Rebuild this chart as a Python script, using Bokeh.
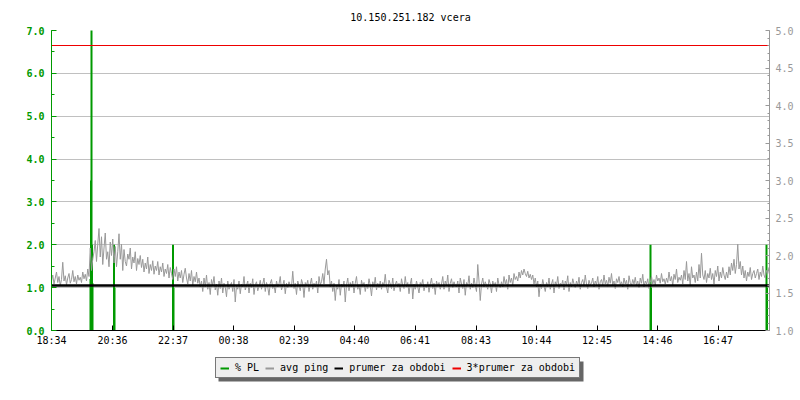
from bokeh.plotting import figure
from bokeh.layouts import column
from bokeh.models import (Range1d, LinearAxis, Legend, LegendItem, FixedTicker,
                          SingleIntervalTicker, NumeralTickFormatter, ColumnDataSource,
                          BoxAnnotation)
from bokeh.embed import file_html
from bokeh.resources import INLINE

title_text = "10.150.251.182 vcera"

# avg ping [ms], one sample every 2.5 minutes starting 18:34 (one row = 30 min)
sample_step_min = 2.5
ping_ms = [
    1.66, 1.74, 1.62, 1.70, 1.78, 1.64, 1.72, 1.60, 1.68, 1.91, 1.66, 1.73,
    1.61, 1.70, 1.76, 1.63, 1.68, 1.80, 1.65, 1.72, 1.62, 1.74, 1.67, 1.71,
    1.64, 1.78, 1.69, 1.75, 1.66, 1.82, 1.72, 2.10, 1.80, 1.95, 2.05, 2.20,
    1.92, 2.15, 2.36, 1.98, 2.25, 1.88, 2.10, 2.30, 1.95, 2.05, 1.85, 2.18,
    2.00, 2.22, 1.90, 2.12, 1.85, 2.05, 2.29, 1.95, 2.15, 1.80, 2.08, 1.92,
    1.86, 2.02, 1.95, 2.10, 1.82, 1.98, 1.90, 2.05, 1.80, 1.96, 1.88, 2.00,
    1.84, 1.95, 1.78, 1.90, 1.82, 1.98, 1.76, 1.88, 1.80, 1.93, 1.75, 1.86,
    1.80, 1.92, 1.74, 1.85, 1.78, 1.90, 1.72, 1.82, 1.76, 1.88, 1.70, 1.84,
    1.76, 1.68, 1.82, 1.72, 1.85, 1.66, 1.78, 1.70, 1.80, 1.64, 1.75, 1.83,
    1.70, 1.62, 1.76, 1.66, 1.80, 1.60, 1.72, 1.65, 1.78, 1.63, 1.70, 1.58,
    1.66, 1.52, 1.70, 1.58, 1.74, 1.55, 1.64, 1.48, 1.68, 1.60, 1.72, 1.54,
    1.62, 1.47, 1.66, 1.56, 1.70, 1.50, 1.63, 1.58, 1.45, 1.66, 1.55, 1.60,
    1.64, 1.52, 1.68, 1.38, 1.60, 1.55, 1.66, 1.49, 1.62, 1.58, 1.72, 1.54,
    1.60, 1.66, 1.50, 1.63, 1.57, 1.69, 1.48, 1.61, 1.65, 1.53, 1.59, 1.67,
    1.55, 1.62, 1.70, 1.52, 1.64, 1.58, 1.47, 1.63, 1.68, 1.56, 1.61, 1.50,
    1.66, 1.58, 1.62, 1.72, 1.54, 1.60, 1.67, 1.49, 1.63, 1.57, 1.65, 1.60,
    1.58, 1.79, 1.56, 1.63, 1.48, 1.66, 1.60, 1.53, 1.68, 1.62, 1.44, 1.64,
    1.60, 1.67, 1.52, 1.62, 1.70, 1.55, 1.63, 1.58, 1.66, 1.50, 1.72, 1.61,
    1.65, 1.76, 1.62, 1.82, 1.95, 1.74, 1.80, 1.58, 1.66, 1.52, 1.63, 1.40,
    1.60, 1.55, 1.68, 1.47, 1.62, 1.58, 1.66, 1.38, 1.61, 1.70, 1.53, 1.64,
    1.58, 1.66, 1.50, 1.63, 1.72, 1.55, 1.61, 1.48, 1.67, 1.59, 1.64, 1.52,
    1.62, 1.56, 1.69, 1.60, 1.46, 1.65, 1.58, 1.71, 1.54, 1.63, 1.57, 1.66,
    1.55, 1.64, 1.60, 1.75, 1.58, 1.50, 1.67, 1.62, 1.56, 1.70, 1.53, 1.61,
    1.66, 1.58, 1.63, 1.52, 1.69, 1.60, 1.56, 1.72, 1.58, 1.64, 1.49, 1.62,
    1.70, 1.42, 1.62, 1.55, 1.66, 1.58, 1.50, 1.64, 1.60, 1.68, 1.53, 1.61,
    1.57, 1.65, 1.51, 1.62, 1.70, 1.56, 1.63, 1.48, 1.66, 1.59, 1.64, 1.55,
    1.62, 1.72, 1.55, 1.66, 1.60, 1.74, 1.52, 1.63, 1.69, 1.57, 1.65, 1.60,
    1.58, 1.66, 1.50, 1.70, 1.62, 1.56, 1.68, 1.47, 1.64, 1.60, 1.73, 1.55,
    1.63, 1.57, 1.70, 1.60, 1.52, 1.88, 1.66, 1.40, 1.62, 1.70, 1.58, 1.65,
    1.60, 1.55, 1.68, 1.62, 1.50, 1.66, 1.59, 1.64, 1.52, 1.70, 1.61, 1.57,
    1.65, 1.58, 1.72, 1.62, 1.68, 1.55, 1.74, 1.64, 1.70, 1.60, 1.76, 1.68,
    1.72, 1.66, 1.78, 1.70, 1.80, 1.74, 1.82, 1.76, 1.72, 1.79, 1.70, 1.75,
    1.68, 1.74, 1.62, 1.70, 1.58, 1.66, 1.45, 1.62, 1.56, 1.68, 1.60, 1.52,
    1.64, 1.58, 1.70, 1.55, 1.62, 1.68, 1.50, 1.65, 1.60, 1.72, 1.56, 1.63,
    1.60, 1.67, 1.54, 1.66, 1.61, 1.73, 1.52, 1.64, 1.58, 1.69, 1.62, 1.57,
    1.66, 1.60, 1.71, 1.55, 1.64, 1.68, 1.59, 1.74, 1.62, 1.56, 1.67, 1.61,
    1.63, 1.70, 1.58, 1.66, 1.61, 1.72, 1.55, 1.65, 1.68, 1.60, 1.74, 1.62,
    1.67, 1.59, 1.71, 1.63, 1.76, 1.60, 1.66, 1.56, 1.69, 1.64, 1.72, 1.61,
    1.65, 1.58, 1.70, 1.62, 1.67, 1.55, 1.73, 1.64, 1.60, 1.68, 1.62, 1.71,
    1.60, 1.66, 1.57, 1.70, 1.63, 1.75, 1.58, 1.66, 1.62, 1.69, 1.56, 1.64,
    1.72, 1.62, 1.68, 1.60, 1.74, 1.66, 1.70, 1.63, 1.76, 1.65, 1.69, 1.62,
    1.70, 1.64, 1.78, 1.66, 1.72, 1.60, 1.75, 1.68, 1.82, 1.64, 1.71, 1.67,
    1.74, 1.62, 1.80, 1.68, 1.92, 1.66, 1.76, 1.60, 1.85, 1.70, 1.74, 1.64,
    1.78, 1.66, 1.88, 1.70, 2.03, 1.74, 1.68, 1.80, 1.64, 1.76, 1.70, 1.83,
    1.68, 1.76, 1.62, 1.80, 1.72, 1.86, 1.66, 1.78, 1.70, 1.84, 1.74, 1.68,
    1.78, 1.70, 1.85, 1.74, 1.90, 1.80, 1.95, 1.76, 1.88, 2.15, 1.82, 1.92,
    1.74, 1.86, 1.70, 1.80, 1.66, 1.78, 1.72, 1.84, 1.68, 1.76, 1.80, 1.70,
    1.76, 1.82, 1.68, 1.78, 1.72, 1.86, 1.74, 1.70, 1.80, 1.76, 1.84, 1.78,
]
avg_ping = 1.6  # "prumer za obdobi"

# packet loss [%] events: minute offset from 18:34 and value
pl_minutes = [78, 79, 80, 81, 82, 125, 126, 243, 244, 1198, 1199, 1430, 1431]
pl_percent = [1.2, 3.5, 8.0, 2.0, 1.1, 2.0, 1.0, 2.0, 1.0, 2.0, 1.0, 2.0, 1.0]

tick_minutes = [0, 122, 243, 364, 485, 606, 727, 849, 970, 1091, 1212, 1333]
tick_labels = ["18:34", "20:36", "22:37", "00:38", "02:39", "04:40",
               "06:41", "08:43", "10:44", "12:45", "14:46", "16:47"]
period_minutes = 1436

legend_labels = ["% PL", "avg ping", "prumer za obdobi", "3*prumer za obdobi"]

FONT = "DejaVu Sans Mono"
GREEN = "#009900"
GRAY = "#999999"
RED = "#ee0000"

p = figure(frame_width=718, frame_height=300,
           x_range=Range1d(0, period_minutes), y_range=Range1d(0, 7),
           output_backend="svg", toolbar_location=None,
           min_border_left=51, min_border_top=30, min_border_right=0,
           min_border_bottom=22)
p.extra_y_ranges = {"ping": Range1d(1, 5)}
p.outline_line_color = None
p.background_fill_color = "white"

p.title.text = title_text
p.title.align = "center"
p.title.vertical_align = "top"
p.title.text_font = FONT
p.title.text_font_size = "10px"
p.title.text_font_style = "normal"
p.title.text_color = "black"
p.title.standoff = 12

# x axis
xa = p.xaxis[0]
xa.ticker = FixedTicker(ticks=tick_minutes, minor_ticks=[])
xa.major_label_overrides = {t: l for t, l in zip(tick_minutes, tick_labels)}
xa.major_tick_in = 5
xa.major_tick_out = 0
xa.minor_tick_in = 0
xa.minor_tick_out = 0
xa.major_label_standoff = 4
xa.major_label_text_font = FONT
xa.major_label_text_font_size = "10px"
xa.major_label_text_color = "black"
xa.axis_line_color = "black"
xa.major_tick_line_color = "black"

# left axis
ya = p.yaxis[0]
ya.ticker = SingleIntervalTicker(interval=1, num_minor_ticks=2)
ya.formatter = NumeralTickFormatter(format="0.0")
ya.major_tick_in = 5
ya.major_tick_out = 0
ya.minor_tick_in = 3
ya.minor_tick_out = 0
ya.major_label_standoff = 7
ya.major_label_text_font = FONT
ya.major_label_text_font_size = "10px"
ya.major_label_text_font_style = "bold"
ya.major_label_text_color = GREEN
ya.axis_line_color = GREEN
ya.major_tick_line_color = GREEN
ya.minor_tick_line_color = GREEN

# right axis
ra = LinearAxis(y_range_name="ping",
                ticker=SingleIntervalTicker(interval=0.5, num_minor_ticks=5),
                formatter=NumeralTickFormatter(format="0.0"))
ra.major_tick_in = 4
ra.major_tick_out = 0
ra.minor_tick_in = 2
ra.minor_tick_out = 0
ra.major_label_standoff = 6
ra.major_label_text_font = FONT
ra.major_label_text_font_size = "10px"
ra.major_label_text_color = GRAY
ra.axis_line_color = GRAY
ra.major_tick_line_color = GRAY
ra.minor_tick_line_color = GRAY
p.add_layout(ra, "right")

p.xgrid.visible = False
p.ygrid.grid_line_color = "#c0c0c0"
p.ygrid.grid_line_width = 1

# data sources
ping_t = [i * sample_step_min for i in range(len(ping_ms))]
ping_src = ColumnDataSource(dict(t=ping_t, v=ping_ms))
pl_src = ColumnDataSource(dict(t=pl_minutes, v=pl_percent, z=[0] * len(pl_minutes)))
avg_src = ColumnDataSource(dict(t=[0, period_minutes], v=[avg_ping, avg_ping],
                                v3=[3 * avg_ping, 3 * avg_ping]))

p.segment(x0="t", y0="z", x1="t", y1="v", source=pl_src,
          line_color=GREEN, line_width=2)
p.line("t", "v", source=ping_src, y_range_name="ping",
       line_color=GRAY, line_width=1)
p.line("t", "v", source=avg_src, y_range_name="ping",
       line_color="black", line_width=2.5)
p.line("t", "v3", source=avg_src, y_range_name="ping",
       line_color=RED, line_width=1)

# legend strip (separate small figure below the chart, 1 unit = 1 px)
lg = figure(frame_width=718, frame_height=48,
            x_range=Range1d(0, 718), y_range=Range1d(-49, -1),
            output_backend="svg", toolbar_location=None,
            x_axis_type=None, y_axis_type=None,
            min_border_left=51, min_border_right=0, min_border_top=0,
            min_border_bottom=0)
lg.outline_line_color = None
lg.xgrid.visible = False
lg.ygrid.visible = False
# same series drawn again, but outside this strip's visible range: legend glyphs only
lr_pl = lg.segment(x0="t", y0="z", x1="t", y1="v", source=pl_src,
                   line_color=GREEN, line_width=2)
lr_ping = lg.line("t", "v", source=ping_src, line_color=GRAY, line_width=2)
lr_avg = lg.line("t", "v", source=avg_src, line_color="black", line_width=2)
lr_avg3 = lg.line("t", "v3", source=avg_src, line_color=RED, line_width=2)
items = [LegendItem(label=lab, renderers=[r]) for lab, r in
         zip(legend_labels, [lr_pl, lr_ping, lr_avg, lr_avg3])]

LEG_X, LEG_Y = 164, 22
shadow = BoxAnnotation(left=LEG_X + 3, right=LEG_X + 368, bottom=-49 + LEG_Y - 3,
                       top=-49 + LEG_Y + 17, fill_color="#666666", fill_alpha=1,
                       line_color=None)
lg.add_layout(shadow)

legend = Legend(items=items, orientation="horizontal", location=(LEG_X, LEG_Y))
legend.label_text_font = FONT
legend.label_text_font_size = "10px"
legend.label_text_color = "black"
legend.glyph_width = 9
legend.glyph_height = 10
legend.label_height = 10
legend.label_standoff = 6
legend.spacing = 6
legend.padding = 4
legend.margin = 0
legend.border_line_color = "black"
legend.border_line_width = 1
legend.background_fill_color = "#eeeeee"
legend.background_fill_alpha = 1
lg.add_layout(legend)

layout = column(p, lg, spacing=0)
open("out.html", "w").write(file_html(layout, INLINE))
